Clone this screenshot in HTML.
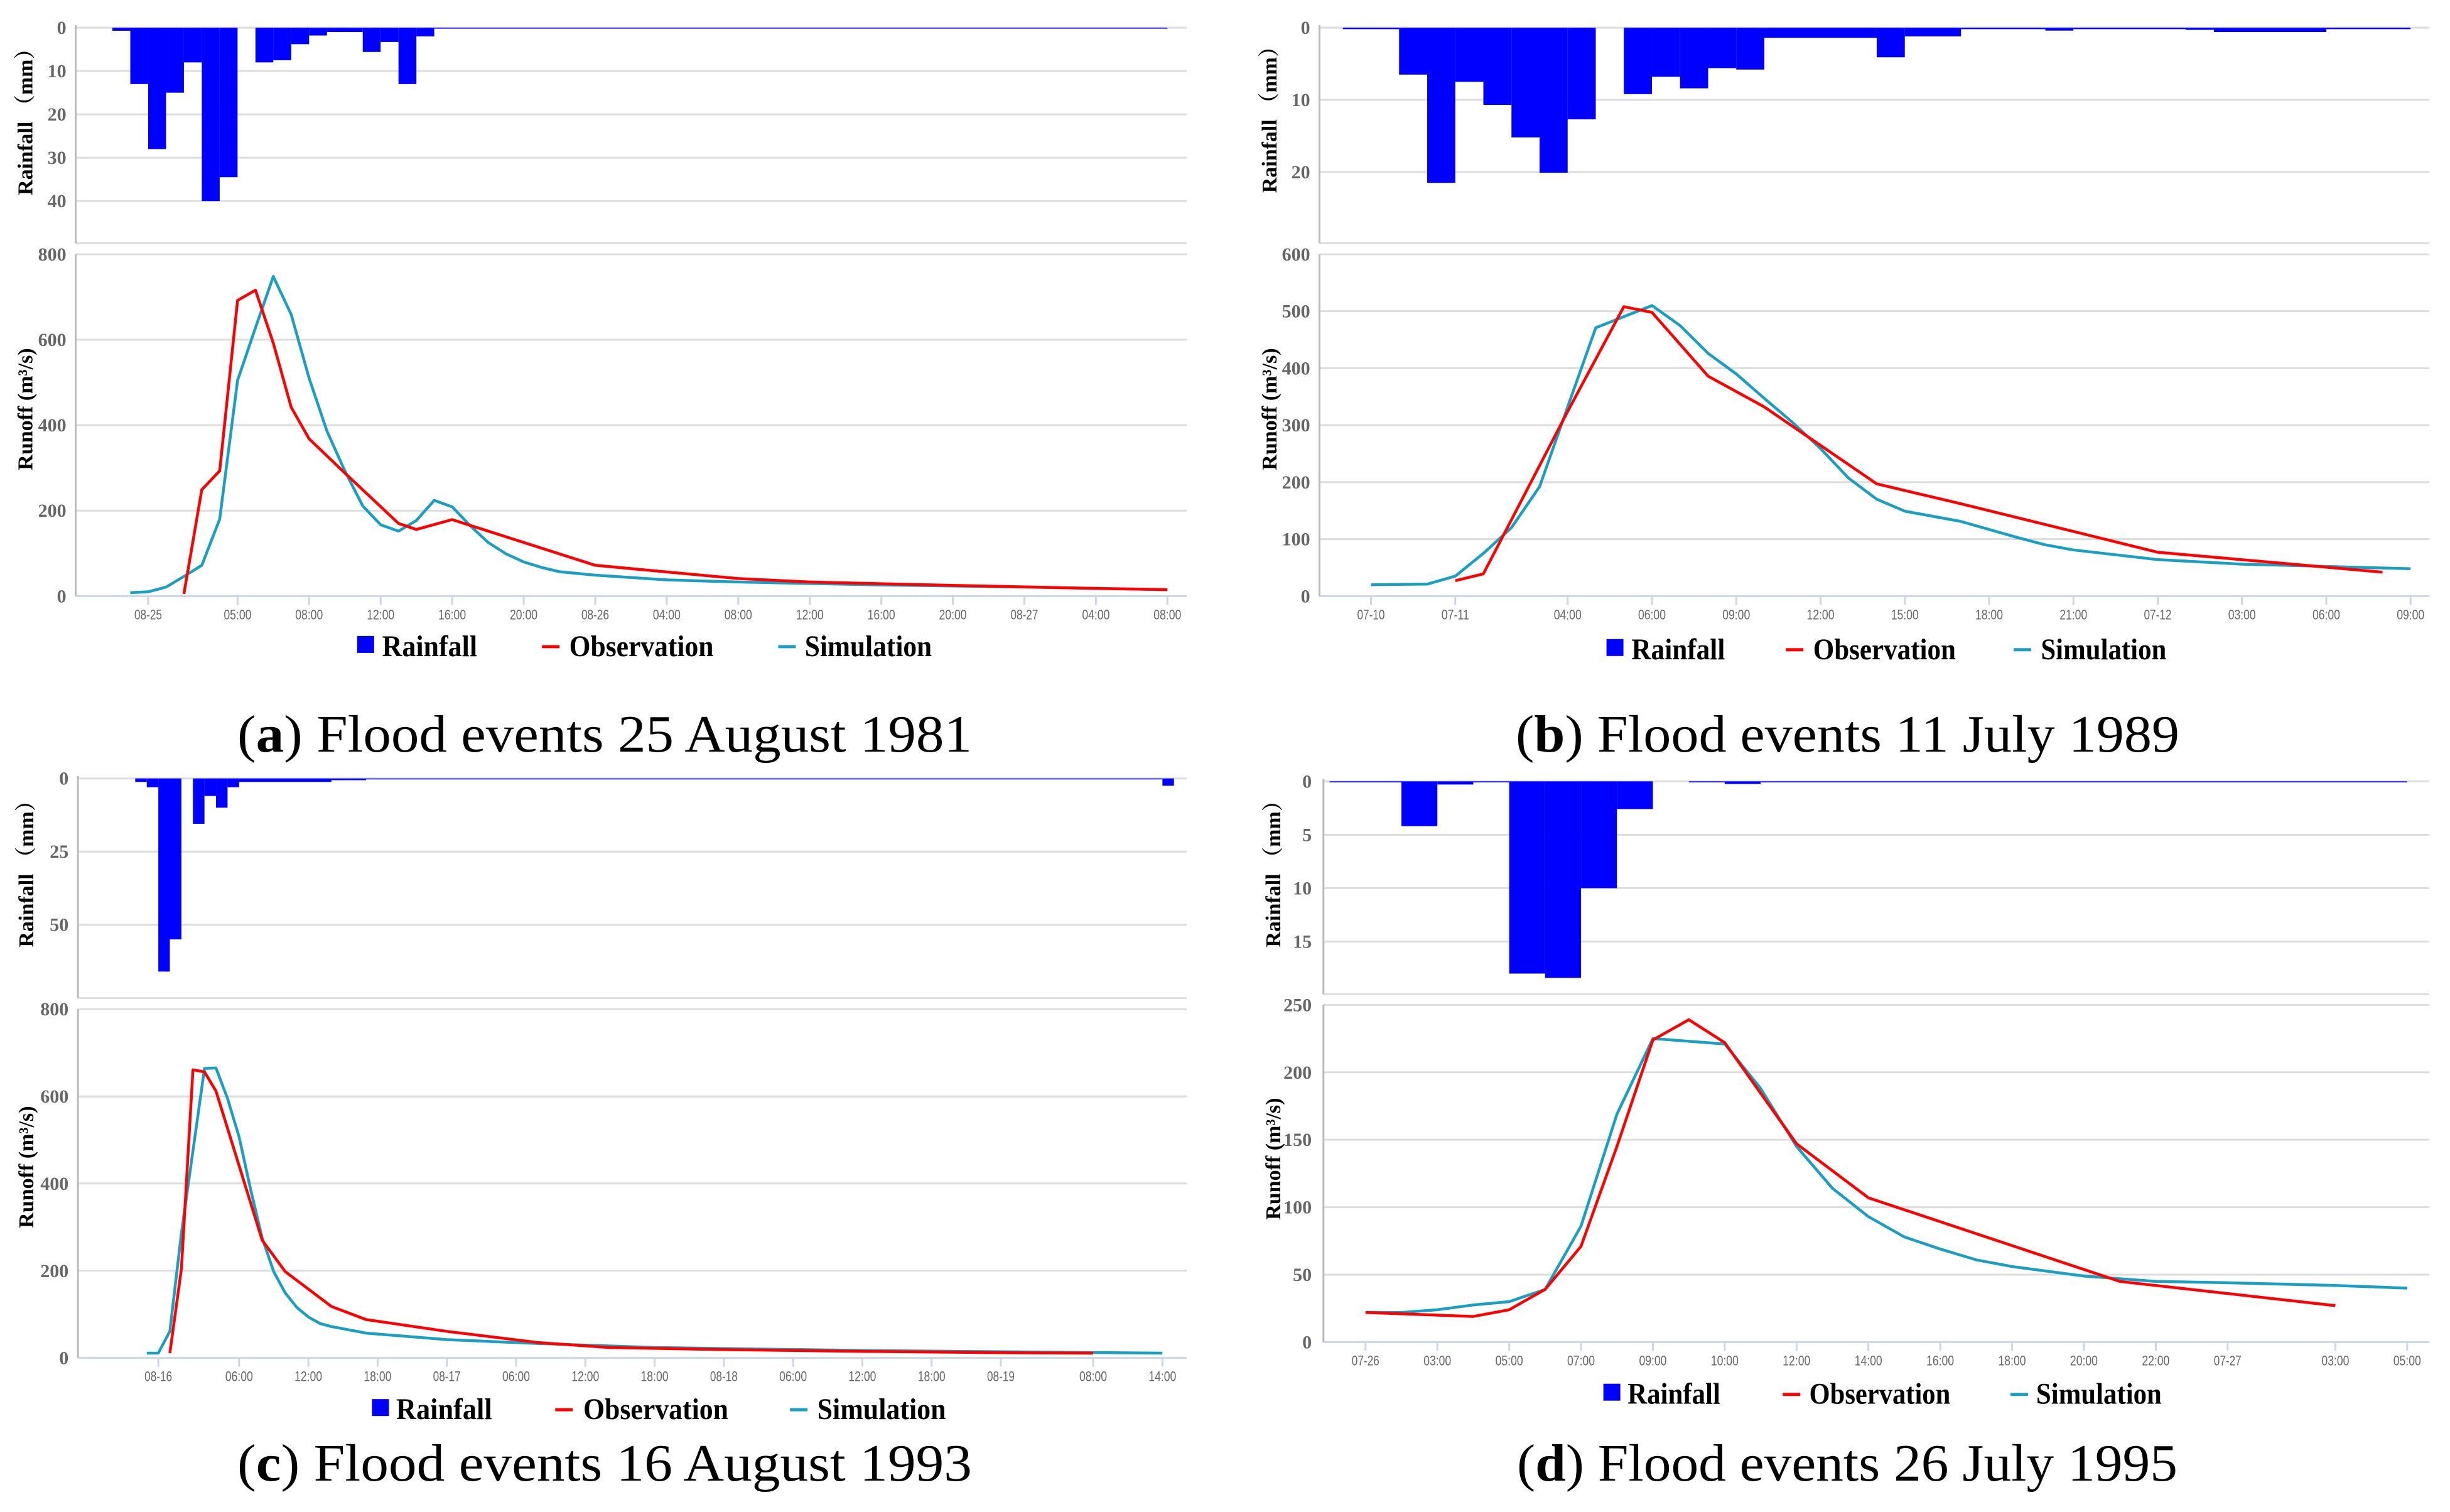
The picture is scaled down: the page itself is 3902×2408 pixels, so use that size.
<!DOCTYPE html>
<html><head><meta charset="utf-8">
<style>
html,body{margin:0;padding:0;background:#fff;}
svg{display:block;}
</style></head>
<body>
<svg id="fig" xmlns="http://www.w3.org/2000/svg" width="3902" height="2408" viewBox="0 0 3902 2408">
<rect x="0" y="0" width="3902" height="2408" fill="#fff"/>
<text x="378" y="1197" font-family="Liberation Serif, serif" font-size="84" textLength="1170" lengthAdjust="spacingAndGlyphs">(<tspan font-weight="bold">a</tspan>) Flood events 25 August 1981</text>
<text x="2414" y="1197" font-family="Liberation Serif, serif" font-size="84" textLength="1057" lengthAdjust="spacingAndGlyphs">(<tspan font-weight="bold">b</tspan>) Flood events 11 July 1989</text>
<text x="378" y="2358" font-family="Liberation Serif, serif" font-size="84" textLength="1170" lengthAdjust="spacingAndGlyphs">(<tspan font-weight="bold">c</tspan>) Flood events 16 August 1993</text>
<text x="2416" y="2358" font-family="Liberation Serif, serif" font-size="84" textLength="1052" lengthAdjust="spacingAndGlyphs">(<tspan font-weight="bold">d</tspan>) Flood events 26 July 1995</text>
</svg>
<script>
// ---------- Panel (a) data ----------
const aTickLabels=["08-25","05:00","08:00","12:00","16:00","20:00","08-26","04:00","08:00","12:00","16:00","20:00","08-27","04:00","08:00"];
const aTickSlots=[0,5,9,13,17,21,25,29,33,37,41,45,49,53,57];
const aRainSlots=[-2,-1,0,1,2,3,4,6,7,8,9,10,11,12,13,14,15,16];
const aRainSpans=[1,1,1,1,1,1,1,1,1,1,1,1,1,1,1,1,1,41];
const aRainVals=[0.7,13,28,15,8,40,34.5,8,7.5,3.8,1.8,1,1,5.6,3.3,13,2,0.2];
const aObsX=[2,3,4,5,6,7,8,9,11,14,15,17,25,33,37,45,53,57];
const aObsY=[5,249,293,692,716,592,442,368,288,170,156,179,72,41,33,25,18,15];
const aSimX=[-1,0,1,2,3,4,5,6,7,8,9,10,11,12,13,14,15,16,17,18,19,20,21,22,23,25,29,33,41,49,57];
const aSimY=[8,10,21,46,72,180,505,628,748,659,510,386,293,211,167,152,177,224,209,165,126,99,80,67,57,49,38,33,26,21,15];
const aRainTicks=[0,10,20,30,40];
const aRunTicks=[0,200,400,600,800];
// ---------- Panel (b) data ----------
const bTickLabels=["07-10","07-11","04:00","06:00","09:00","12:00","15:00","18:00","21:00","07-12","03:00","06:00","09:00"];
const bTickSlots=[0,3,7,10,13,16,19,22,25,28,31,34,37];
const bRainSlots=[-1,0,1,2,3,4,5,6,7,9,10,11,12,13,14,18,19,21,24,25,29,30,34];
const bRainSpans=[1,1,1,1,1,1,1,1,1,1,1,1,1,1,4,1,2,3,1,4,1,4,3];
const bRainVals=[0.2,0.2,6.5,21.5,7.5,10.7,15.2,20.1,12.7,9.2,6.8,8.4,5.6,5.8,1.4,4.1,1.2,0.2,0.4,0.2,0.3,0.6,0.2];
const bObsX=[3,4,7,9,10,12,14,18,21,28,36];
const bObsY=[27,39,324,508,498,386,332,197,162,77,42];
const bSimX=[0,2,3,4,5,6,7,8,10,11,12,13,14,15,16,17,18,19,21,23,24,25,28,31,34,37];
const bSimY=[20,21,35,75,120,192,332,471,510,475,426,390,347,305,259,207,170,149,131,103,90,81,64,56,52,48];
const bRainTicks=[0,10,20];
const bRunTicks=[0,100,200,300,400,500,600];
// ---------- Panel (c) data ----------
const cTickLabels=["08-16","06:00","12:00","18:00","08-17","06:00","12:00","18:00","08-18","06:00","12:00","18:00","08-19","08:00","14:00"];
const cTickSlots=[0,7,13,19,25,31,37,43,49,55,61,67,73,81,87];
const cRainSlots=[-2,-1,0,1,3,4,5,6,7,15,18,87];
const cRainSpans=[1,1,1,1,1,1,1,1,8,3,69,1];
const cRainVals=[1.2,3,66,55,15.5,6,10,3,1.2,0.6,0.2,2.5];
const cObsX=[1,2,3,4,5,9,11,15,18,25,33,39,49,61,73,81];
const cObsY=[11,204,661,656,612,270,198,118,88,61,35,24,19,15,12,11];
const cSimX=[-1,0,1,2,4,5,6,7,8,9,10,11,12,13,14,15,18,25,33,43,61,87];
const cSimY=[11,11,61,286,664,665,595,507,386,275,198,149,116,94,79,72,57,42,33,24,17,11];
const cRainTicks=[0,25,50];
const cRunTicks=[0,200,400,600,800];
// ---------- Panel (d) data ----------
const dTickLabels=["07-26","03:00","05:00","07:00","09:00","10:00","12:00","14:00","16:00","18:00","20:00","22:00","07-27","03:00","05:00"];
const dTickSlots=[0,2,4,6,8,10,12,14,16,18,20,22,24,27,29];
const dRainSlots=[-1,1,2,3,4,5,6,7,9,10,11];
const dRainSpans=[2,1,1,1,1,1,1,1,1,1,18];
const dRainVals=[0.1,4.2,0.3,0.1,18,18.4,10,2.6,0.1,0.25,0.1];
const dObsX=[0,3,4,5,6,7,8,9,10,12,14,21,27];
const dObsY=[22,19,24,39,71,145,224,239,222,147,107,45,27];
const dSimX=[0,1,2,3,4,5,6,7,8,10,11,12,13,14,15,16,17,18,20,22,24,27,29];
const dSimY=[22,22,24,27.5,30,39,86,169,225,221,188,145,114,93,78,69,61,56,49,45,44,42,40];
const dRainTicks=[0,5,10,15];
const dRunTicks=[0,50,100,150,200,250];

const SVGNS="http://www.w3.org/2000/svg";
const svg=document.getElementById('fig');
function mk(tag,attrs,parent){const e=document.createElementNS(SVGNS,tag);for(const k in attrs)e.setAttribute(k,attrs[k]);(parent||svg).appendChild(e);return e;}

const layouts={
 a:{cx:0,cy:0,ky:0.7006,kx:1.242,left:97,right:1522,rain0:63,rainBot:553,rainMax:40,rainMaxY:457,runTop:578,run0:1355,runMax:800,slot0:190,slotW:22.93,ytx:85,ylx:32,rly:265,uly:930,leg:{y:1470,sq:458,rt:490,rw:122,od:695,ot:730,ow:185,sd:998,st:1032,sw:163}},
 b:{cx:1950,cy:0,ky:0.7006,kx:1.242,left:122,right:1545,rain0:63,rainBot:553,rainMax:20,rainMaxY:391,runTop:578,run0:1355,runMax:600,slot0:188,slotW:36.03,ytx:110,ylx:57,rly:260,uly:930,leg:{y:1477,sq:490,rt:522,rw:120,od:720,ot:755,ow:183,sd:1012,st:1047,sw:161}},
 c:{cx:0,cy:1200,ky:0.764,kx:1.242,left:100,right:1522,rain0:52,rainBot:510,rainMax:50,rainMaxY:357,runTop:533,run0:1260,runMax:800,slot0:203,slotW:14.8,ytx:88,ylx:33,rly:240,uly:862,leg:{y:1368,sq:477,rt:508,rw:123,od:712,ot:748,ow:186,sd:1013,st:1048,sw:165}},
 d:{cx:1950,cy:1200,ky:0.764,kx:1.242,left:127,right:1545,rain0:58,rainBot:502,rainMax:15,rainMaxY:392,runTop:524,run0:1227,runMax:250,slot0:181,slotW:46.06,ytx:112,ylx:62,rly:240,uly:845,leg:{y:1336,sq:486,rt:517,rw:119,od:716,ot:750,ow:181,sd:1008,st:1041,sw:161}}
};
const panels={
 a:{tl:aTickLabels,ts:aTickSlots,rs:aRainSlots,rsp:aRainSpans,rv:aRainVals,ox:aObsX,oy:aObsY,sx:aSimX,sy:aSimY,rt:aRainTicks,ut:aRunTicks},
 b:{tl:bTickLabels,ts:bTickSlots,rs:bRainSlots,rsp:bRainSpans,rv:bRainVals,ox:bObsX,oy:bObsY,sx:bSimX,sy:bSimY,rt:bRainTicks,ut:bRunTicks},
 c:{tl:cTickLabels,ts:cTickSlots,rs:cRainSlots,rsp:cRainSpans,rv:cRainVals,ox:cObsX,oy:cObsY,sx:cSimX,sy:cSimY,rt:cRainTicks,ut:cRunTicks},
 d:{tl:dTickLabels,ts:dTickSlots,rs:dRainSlots,rsp:dRainSpans,rv:dRainVals,ox:dObsX,oy:dObsY,sx:dSimX,sy:dSimY,rt:dRainTicks,ut:dRunTicks}
};

for(const id of ['a','b','c','d']){
 const L=layouts[id],P=panels[id];
 const X=z=>L.cx+z*L.kx, Y=z=>L.cy+z*L.ky;
 const xS=s=>X(L.slot0+s*L.slotW);
 const rainY=v=>Y(L.rain0+v*(L.rainMaxY-L.rain0)/L.rainMax);
 const runY=v=>Y(L.run0-v*(L.run0-L.runTop)/L.runMax);
 const g=mk('g',{});
 
 
 const x0=X(L.left),x1=X(L.right);
 P.rt.forEach(t=>{
  const y=rainY(t);
  const ln=mk('line',{x1:x0,x2:x1,y1:y,y2:y,stroke:'#dddddd','stroke-width':3},g);
  
  
  const tx=mk('text',{x:X(L.ytx),y:y+10,'text-anchor':'end','font-family':'Liberation Serif, serif','font-size':30,'font-weight':'bold',fill:'#666'},g);
  tx.textContent=t;
  
  
 });
 const rb=mk('line',{x1:x0,x2:x1,y1:Y(L.rainBot),y2:Y(L.rainBot),stroke:'#dddddd','stroke-width':3},g);
 
 
 const ra=mk('line',{x1:x0,x2:x0,y1:rainY(0)-4,y2:Y(L.rainBot),stroke:'#bbbbbb','stroke-width':3},g);
 
 
 P.rs.forEach((s,i)=>{
  const xa=xS(s),xb=xS(s+P.rsp[i]);
  const r=mk('rect',{x:xa,y:rainY(0),width:xb-xa,height:Math.max(1.5,rainY(P.rv[i])-rainY(0)),fill:'#0000ff'},g);
  
  
 });
 P.ut.forEach(t=>{
  const y=runY(t);
  const ln=mk('line',{x1:x0,x2:x1,y1:y,y2:y,stroke:t===0?'#ccd6eb':'#dddddd','stroke-width':3},g);
  
  
  const tx=mk('text',{x:X(L.ytx),y:y+10,'text-anchor':'end','font-family':'Liberation Serif, serif','font-size':30,'font-weight':'bold',fill:'#666'},g);
  tx.textContent=t;
  
  
 });
 const ua=mk('line',{x1:x0,x2:x0,y1:runY(L.runMax),y2:runY(0),stroke:'#bbbbbb','stroke-width':3},g);
 
 
 P.ts.forEach((s,i)=>{
  const x=xS(s),y=runY(0);
  const tk=mk('line',{x1:x,x2:x,y1:y,y2:y+14,stroke:'#ccd6eb','stroke-width':3},g);
  
  
  const tx=mk('text',{x:x,y:y+37,'text-anchor':'middle','font-family':'Liberation Sans Narrow, Liberation Sans, sans-serif','font-size':22,fill:'#666',textLength:44,lengthAdjust:'spacingAndGlyphs'},g);
  tx.textContent=P.tl[i];
  
  
 });
 const pts=(xs,ys)=>xs.map((s,i)=>xS(s).toFixed(1)+','+runY(ys[i]).toFixed(1)).join(' ');
 const sim=mk('polyline',{points:pts(P.sx,P.sy),fill:'none',stroke:'#1a9ec2','stroke-width':4.5,'stroke-linejoin':'round'},g);
 
 
 const obs=mk('polyline',{points:pts(P.ox,P.oy),fill:'none',stroke:'#ff0000','stroke-width':4.5,'stroke-linejoin':'round'},g);
 
 
 const yl1=mk('text',{x:0,y:0,'text-anchor':'middle','font-family':'Liberation Serif, Noto Serif CJK SC, serif','font-size':34,'font-weight':'bold',transform:`translate(${X(L.ylx)+12},${Y(L.rly)}) rotate(-90)`},g);
 yl1.textContent='Rainfall （mm）';
 
 
 const yl2=mk('text',{x:0,y:0,'text-anchor':'middle','font-family':'Liberation Serif, serif','font-size':34,'font-weight':'bold',transform:`translate(${X(L.ylx)+12},${Y(L.uly)}) rotate(-90)`},g);
 yl2.textContent='Runoff (m³/s)';
 
 
 const lg=L.leg, ly=Y(lg.y);
 const sq=mk('rect',{x:X(lg.sq),y:ly-17,width:27,height:27,fill:'#0000ff'},g);
 
 
 const t1=mk('text',{x:X(lg.rt),y:ly+15,'font-family':'Liberation Serif, serif','font-size':48,'font-weight':'bold',textLength:lg.rw*L.kx,lengthAdjust:'spacingAndGlyphs'},g);
 t1.textContent='Rainfall';
 
 
 const d1=mk('line',{x1:X(lg.od),x2:X(lg.od)+28,y1:ly,y2:ly,stroke:'#ff0000','stroke-width':5},g);
 
 
 const t2=mk('text',{x:X(lg.ot),y:ly+15,'font-family':'Liberation Serif, serif','font-size':48,'font-weight':'bold',textLength:lg.ow*L.kx,lengthAdjust:'spacingAndGlyphs'},g);
 t2.textContent='Observation';
 
 
 const d2=mk('line',{x1:X(lg.sd),x2:X(lg.sd)+28,y1:ly,y2:ly,stroke:'#1a9ec2','stroke-width':5},g);
 
 
 const t3=mk('text',{x:X(lg.st),y:ly+15,'font-family':'Liberation Serif, serif','font-size':48,'font-weight':'bold',textLength:lg.sw*L.kx,lengthAdjust:'spacingAndGlyphs'},g);
 t3.textContent='Simulation';
 
 
}
</script>
</body></html>
